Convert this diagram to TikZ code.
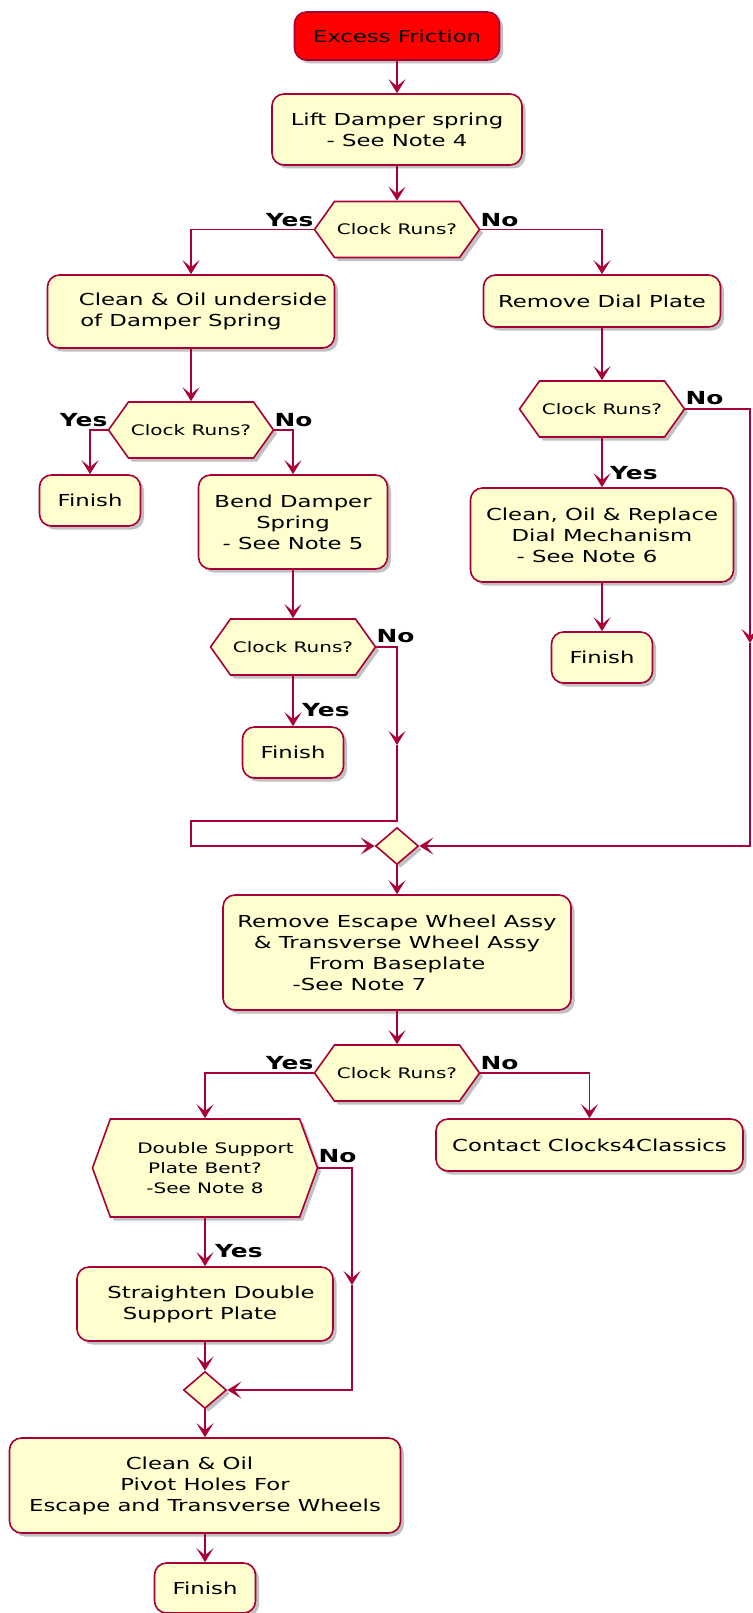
\documentclass[tikz,border=0pt]{standalone}
\usepackage{fontspec}
\setmainfont[FakeStretch=1.38]{DejaVu Sans}
\usetikzlibrary{positioning,arrows.meta,shapes.geometric,shapes.symbols,shadows}
\definecolor{umlline}{HTML}{A80036}
\definecolor{umlfill}{HTML}{FEFECE}
\newcommand\actsize{\fontsize{16.5}{21}\selectfont}
\newcommand\decsize{\fontsize{14.5}{20}\selectfont}
\newcommand\lblsize{\fontsize{18}{20}\selectfont\bfseries}

\begin{document}
\begin{tikzpicture}[x=1pt, y=-1pt,
  umlshadow/.style={drop shadow={shadow xshift=3.5pt, shadow yshift=-3.5pt, opacity=0.35, fill=black!70}},
  act/.style={rectangle, rounded corners=12pt, draw=umlline, fill=umlfill, line width=1.6pt, inner sep=0pt, align=center, font=\actsize, umlshadow},
  startbox/.style={act, fill=red},
  finish/.style={act, minimum width=101pt, minimum height=51pt},
  dec/.style={signal, signal to=east and west, draw=umlline, fill=umlfill, line width=1.6pt, inner sep=0pt, align=center, font=\decsize, umlshadow},
  clockdec/.style={dec, minimum width=165pt, minimum height=56pt, signal pointer angle=109},
  merge/.style={diamond, draw=umlline, fill=umlfill, line width=1.6pt, inner sep=0pt, minimum width=43pt, minimum height=37pt, umlshadow},
  lbl/.style={font=\lblsize, inner sep=0pt},
  flow/.style={draw=umlline, line width=1.9pt, -{Stealth[length=14pt, width=17pt, inset=7pt]}}
]
\useasboundingbox (0,0) rectangle (752,1613);
% top of the chart
\node[startbox, minimum width=205pt, minimum height=48pt] (start) at (397,36) {Excess Friction};
\node[act, minimum width=250pt, minimum height=71pt] (lift) at (397,129.5) {Lift Damper spring\\- See Note 4};
\node[clockdec] (d1) at (397,229.5) {Clock Runs?};
% left branch
\node[act, minimum width=287pt, minimum height=73pt] (oilspring) at (191,311.5) {\hspace*{24pt}Clean \& Oil underside\\of Damper Spring\hspace*{20pt}};
\node[clockdec] (d2) at (191,430) {Clock Runs?};
\node[finish] (fin1) at (90,500.5) {Finish};
\node[act, minimum width=189pt, minimum height=94pt] (bend) at (293,522) {Bend Damper\\Spring\hspace*{22pt}\\- See Note 5};
\node[clockdec] (d3) at (293,647) {Clock Runs?};
\node[finish] (fin2) at (293,752.5) {Finish};
% right branch
\node[act, minimum width=237pt, minimum height=52pt] (dialplate) at (602,301) {Remove Dial Plate};
\node[clockdec] (d4) at (602,409) {Clock Runs?};
\node[act, minimum width=263pt, minimum height=94pt] (dialmech) at (602,535) {Clean, Oil \& Replace\\Dial Mechanism\hspace*{10pt}\\- See Note 6\hspace*{30pt}};
\node[finish] (fin3) at (602,657.5) {Finish};
% join and lower part
\node[merge] (m1) at (397,846) {};
\node[act, minimum width=348pt, minimum height=115pt] (escape) at (397,952.5) {Remove Escape Wheel Assy\\\& Transverse Wheel Assy\hspace*{7pt}\\From Baseplate\hspace*{60pt}\\-See Note 7\hspace*{75pt}};
\node[clockdec] (d5) at (397,1073) {Clock Runs?};
\node[act, minimum width=307pt, minimum height=52pt] (contact) at (589.5,1145) {Contact Clocks4Classics};
\node[dec, minimum width=225pt, minimum height=98pt, signal pointer angle=140] (bent) at (205,1168) {\hspace*{21pt}Double Support\\Plate Bent?\hspace*{9pt}\\-See Note 8};
\node[act, minimum width=256pt, minimum height=74pt] (straight) at (205,1304) {\hspace*{12pt}Straighten Double\\Support Plate\hspace*{10pt}};
\node[merge] (m2) at (205,1390) {};
\node[act, minimum width=391pt, minimum height=95pt] (pivot) at (205,1485.5) {Clean \& Oil\hspace*{31pt}\\Pivot Holes For\\Escape and Transverse Wheels};
\node[finish, minimum height=50pt] (fin4) at (205,1588) {Finish};
% branch labels
\node[lbl, anchor=base east, yshift=3pt] (y1) at (d1.west) {Yes};
\node[lbl, anchor=base west, yshift=3pt] (n1) at (d1.east) {No};
\node[lbl, anchor=base east, yshift=4pt] (y2) at (d2.west) {Yes};
\node[lbl, anchor=base west, yshift=4pt] (n2) at (d2.east) {No};
\node[lbl, anchor=base west, yshift=5pt] (n3) at (d3.east) {No};
\node[lbl, anchor=base west] (y3) at ([xshift=9pt, yshift=10pt]fin2.north) {Yes};
\node[lbl, anchor=base west, yshift=5pt] (n4) at (d4.east) {No};
\node[lbl, anchor=base west] (y4) at ([xshift=8pt, yshift=8pt]dialmech.north) {Yes};
\node[lbl, anchor=base east, yshift=4pt] (y5) at (d5.west) {Yes};
\node[lbl, anchor=base west, yshift=4pt] (n5) at (d5.east) {No};
\node[lbl, anchor=base west, yshift=6pt] (n8) at (bent.east) {No};
\node[lbl, anchor=base west] (y8) at ([xshift=10pt, yshift=9pt]straight.north) {Yes};
% connectors
\coordinate (no3) at (397,745);
\coordinate (back3) at (191,821);
\coordinate (no4) at (750,643);
\coordinate (no8) at (352,1285);
\draw[flow] (start.south) -- (lift.north);
\draw[flow] (lift.south) -- (d1.north);
\draw[flow] (d1.west) -| (oilspring.north);
\draw[flow] (d1.east) -| (dialplate.north);
\draw[flow] (oilspring.south) -- (d2.north);
\draw[flow] (d2.west) -| (fin1.north);
\draw[flow] (d2.east) -| (bend.north);
\draw[flow] (bend.south) -- (d3.north);
\draw[flow] (d3.south) -- (fin2.north);
\draw[flow] (d3.east) -| (no3);
\draw[flow] (no3) |- (back3) |- (m1.west);
\draw[flow] (dialplate.south) -- (d4.north);
\draw[flow] (d4.south) -- (dialmech.north);
\draw[flow] (dialmech.south) -- (fin3.north);
\draw[flow] (d4.east) -| (no4);
\draw[flow] (no4) |- (m1.east);
\draw[flow] (m1.south) -- (escape.north);
\draw[flow] (escape.south) -- (d5.north);
\draw[flow] (d5.west) -| (bent.north);
\draw[flow] (d5.east) -| (contact.north);
\draw[flow] (bent.south) -- (straight.north);
\draw[flow] (bent.east) -| (no8);
\draw[flow] (no8) |- (m2.east);
\draw[flow] (straight.south) -- (m2.north);
\draw[flow] (m2.south) -- (pivot.north);
\draw[flow] (pivot.south) -- (fin4.north);
\end{tikzpicture}
\end{document}
